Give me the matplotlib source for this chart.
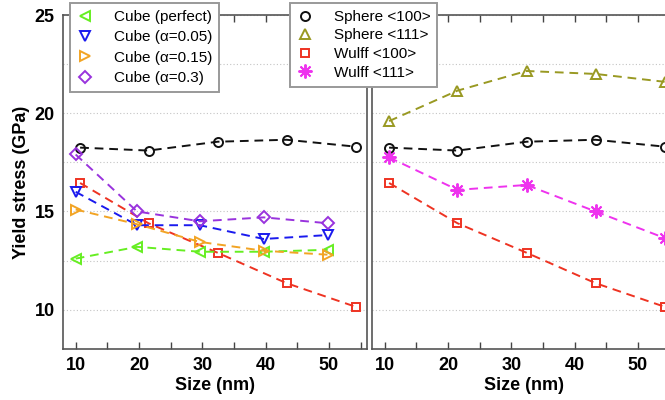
import matplotlib
matplotlib.use("Agg")
import matplotlib.pyplot as plt
from matplotlib.ticker import MultipleLocator
from matplotlib.lines import Line2D

plt.rcParams['font.family'] = ['Liberation Sans', 'DejaVu Sans']

# Cube nanoparticles (left panel)
cube_size = [10, 19.7, 29.6, 39.7, 49.8]
cube_perfect = [12.6, 13.2, 12.95, 12.95, 13.05]
cube_a005 = [16.0, 14.3, 14.3, 13.6, 13.8]
cube_a015 = [15.1, 14.35, 13.45, 13.0, 12.8]
cube_a03 = [17.9, 15.0, 14.5, 14.7, 14.4]

# Sphere and Wulff nanoparticles
sw_size = [10.7, 21.5, 32.4, 43.3, 54.2]
sphere_100 = [18.25, 18.1, 18.55, 18.65, 18.3]
sphere_111 = [19.6, 21.15, 22.15, 22.0, 21.6]
wulff_100 = [16.45, 14.4, 12.9, 11.35, 10.15]
wulff_111 = [17.75, 16.1, 16.35, 15.0, 13.65]

cube_labels = ['Cube (perfect)', 'Cube (α=0.05)', 'Cube (α=0.15)', 'Cube (α=0.3)']
sw_labels = ['Sphere <100>', 'Sphere <111>', 'Wulff <100>', 'Wulff <111>']

c_green = '#66ee22'
c_blue = '#1a1aee'
c_orange = '#f2a424'
c_purple = '#9933dd'
c_red = '#ee3322'
c_black = '#111111'
c_olive = '#999922'
c_magenta = '#ee33ee'

ASTERISK = (8, 2, 0)

fig = plt.figure(figsize=(6.65, 4.0), dpi=100)
axL = fig.add_axes([63/665, 1-349/400, 304/665, 334/400])
axR = fig.add_axes([372/665, 1-349/400, 304/665, 334/400])

dash = (0, (4.5, 3))
lw = 1.4
ms = 6.5
mew = 1.4


def series(ax, x, y, color, marker, size=ms):
    ax.plot(x, y, linestyle=dash, color=color, lw=lw, marker=marker,
            markersize=size, markerfacecolor='none', markeredgecolor=color,
            markeredgewidth=mew, zorder=3)


# left panel
series(axL, sw_size, sphere_100, c_black, 'o')
series(axL, sw_size, wulff_100, c_red, 's', size=6)
series(axL, cube_size, cube_perfect, c_green, '<', size=7.5)
series(axL, cube_size, cube_a005, c_blue, 'v', size=7.5)
series(axL, cube_size, cube_a015, c_orange, '>', size=7.5)
series(axL, cube_size, cube_a03, c_purple, 'D', size=6.5)

# right panel
series(axR, sw_size, sphere_111, c_olive, '^', size=7.5)
series(axR, sw_size, sphere_100, c_black, 'o')
series(axR, sw_size, wulff_111, c_magenta, ASTERISK, size=10)
series(axR, sw_size, wulff_100, c_red, 's', size=6)

for ax in (axL, axR):
    ax.set_xlim(8, 56)
    ax.set_ylim(8, 25)
    ax.xaxis.set_major_locator(MultipleLocator(10))
    ax.xaxis.set_minor_locator(MultipleLocator(5))
    ax.yaxis.set_major_locator(MultipleLocator(5))
    ax.yaxis.set_minor_locator(MultipleLocator(2.5))
    ax.tick_params(axis='x', which='both', direction='in', top=True, bottom=True,
                   length=5, width=1.0, color='#444444')
    ax.tick_params(axis='x', which='major', labelsize=13, pad=6)
    ax.tick_params(axis='y', which='both', length=0)
    ax.grid(True, which='both', axis='y', linestyle=(0, (1, 2)),
            color='#c4c4c4', lw=0.8)
    for s in ax.spines.values():
        s.set_color('#555555')
        s.set_linewidth(1.2)
    for t in ax.get_xticklabels():
        t.set_fontweight('bold')
    ax.set_xlabel('Size (nm)', fontsize=13, fontweight='bold', labelpad=2)

axL.tick_params(axis='y', labelsize=13, pad=6)
for t in axL.get_yticklabels():
    t.set_fontweight('bold')
axL.set_ylabel('Yield stress (GPa)', fontsize=13, fontweight='bold', labelpad=3)
axR.tick_params(axis='y', labelleft=False)


# legends: marker-only entries
def handle(color, marker, size):
    return Line2D([], [], linestyle='none', marker=marker, markersize=size,
                  markerfacecolor='none', markeredgecolor=color,
                  markeredgewidth=mew)


hl_cube = [handle(c_green, '<', 7.5), handle(c_blue, 'v', 7.5),
           handle(c_orange, '>', 7.5), handle(c_purple, 'D', 6.5)]
hl_sw = [handle(c_black, 'o', 6.5), handle(c_olive, '^', 7.5),
         handle(c_red, 's', 6), handle(c_magenta, ASTERISK, 10)]

common = dict(fontsize=11, handlelength=1.0, handletextpad=1.4,
              borderpad=0.45, fancybox=False,
              framealpha=1, edgecolor='#999999', borderaxespad=0)
legL = fig.legend(hl_cube, cube_labels, loc='upper left', labelspacing=0.42,
                  bbox_to_anchor=(70/665, 1-3/400), **common)
legR = fig.legend(hl_sw, sw_labels, loc='upper left', labelspacing=0.3,
                  bbox_to_anchor=(290/665, 1-3/400), **common)
for leg in (legL, legR):
    leg.get_frame().set_linewidth(1.4)
    leg.set_zorder(10)

fig.savefig('out.png', dpi=100)
